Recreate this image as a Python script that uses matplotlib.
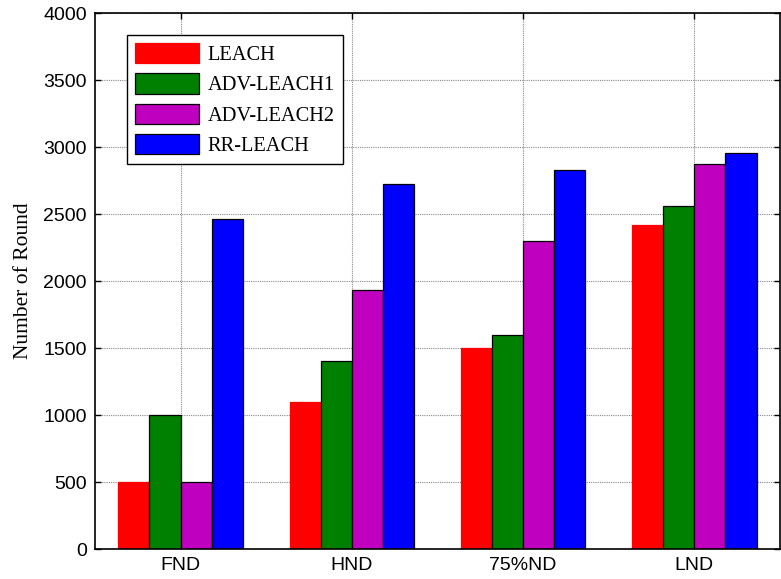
import numpy as np
import matplotlib
matplotlib.use("Agg")
from matplotlib import pyplot as plt

# node-death milestones and the rounds at which each protocol reaches them
stages = ["FND", "HND", "75%ND", "LND"]
protocols = ["LEACH", "ADV-LEACH1", "ADV-LEACH2", "RR-LEACH"]
leach = [500, 1100, 1500, 2420]
adv_leach1 = [1000, 1400, 1600, 2560]
adv_leach2 = [500, 1930, 2300, 2875]
rr_leach = [2465, 2725, 2825, 2958]
y_ticks = [0, 500, 1000, 1500, 2000, 2500, 3000, 3500, 4000]

series = [leach, adv_leach1, adv_leach2, rr_leach]
face_colors = ["#ff0000", "#008000", "#bf00bf", "#0000ff"]
edge_colors = ["#ff0000", "black", "black", "black"]

fig = plt.figure(figsize=(7.81, 5.79), dpi=100)
ax = fig.add_axes([0.1216, 0.0518, 0.8771, 0.9257])

x = np.arange(1, len(stages) + 1)
n = len(series)
group_w = n / (n + 1.5)          # same grouping rule as MATLAB's bar()
bar_w = group_w / n
for i, vals in enumerate(series):
    offs = (i - (n - 1) / 2) * bar_w
    ax.bar(x + offs, vals, width=bar_w, color=face_colors[i],
           edgecolor=edge_colors[i], linewidth=0.9, label=protocols[i],
           zorder=3)

ax.set_xlim(0.5, len(stages) + 0.5)
ax.set_ylim(0, 4000)
ax.set_xticks(x)
ax.set_xticklabels(stages, fontsize=14, family="Liberation Sans")
ax.set_yticks(y_ticks)
ax.set_yticklabels([str(v) for v in y_ticks], fontsize=14,
                   family="Liberation Sans")
ax.set_ylabel("Number of Round", fontsize=15.5, family="Liberation Serif",
              labelpad=7)

ax.grid(True, linestyle=(0, (1, 1)), color="#888888", linewidth=0.8, zorder=0)
ax.tick_params(direction="in", length=4, width=1, top=True, right=True,
               pad=6)
for s in ax.spines.values():
    s.set_linewidth(1.2)
    s.set_zorder(5)

leg = ax.legend(loc="upper left", bbox_to_anchor=(0.0467, 0.959),
                borderaxespad=0, fancybox=False, framealpha=1,
                edgecolor="black", prop={"family": "Liberation Serif",
                                         "size": 14.7},
                handlelength=3.15, handleheight=1.15, labelspacing=0.4,
                handletextpad=0.4, borderpad=0.4)
leg.get_frame().set_linewidth(1.0)
leg.set_zorder(10)

fig.savefig("out.png", dpi=100)
